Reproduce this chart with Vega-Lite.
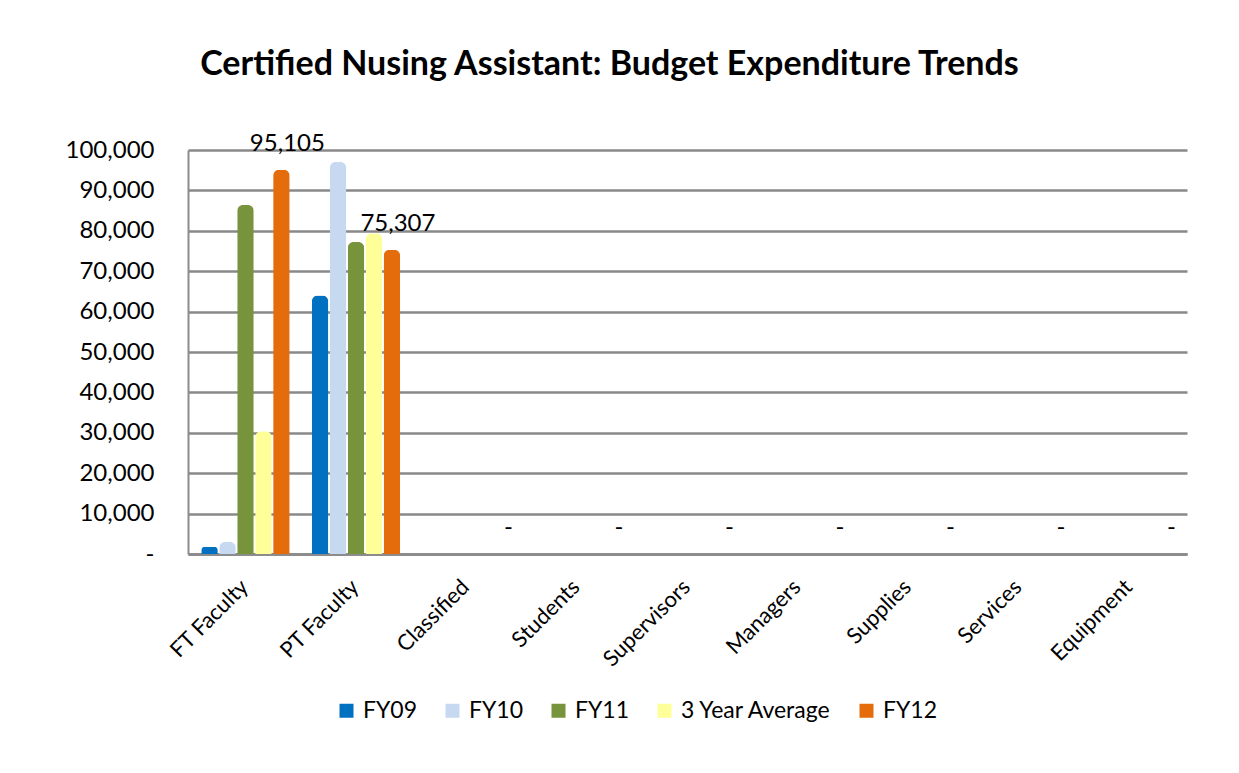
{
  "$schema": "https://vega.github.io/schema/vega-lite/v6.json",
  "autosize": {"type": "none"},
  "width": 999,
  "height": 404,
  "padding": {"left": 188, "top": 150, "right": 52, "bottom": 219},
  "background": "white",
  "title": {
    "text": "Certified Nusing Assistant: Budget Expenditure Trends",
    "font": "Lato",
    "fontSize": 34,
    "fontWeight": "bold",
    "color": "#000000",
    "frame": "group",
    "anchor": "middle",
    "dx": -78,
    "offset": 50
  },
  "data": {
    "values": [
      {"category": "FT Faculty", "series": "FY09", "value": 1800},
      {"category": "FT Faculty", "series": "FY10", "value": 3000},
      {"category": "FT Faculty", "series": "FY11", "value": 86400},
      {"category": "FT Faculty", "series": "3 Year Average", "value": 30400},
      {"category": "FT Faculty", "series": "FY12", "value": 95105},
      {"category": "PT Faculty", "series": "FY09", "value": 64000},
      {"category": "PT Faculty", "series": "FY10", "value": 97000},
      {"category": "PT Faculty", "series": "FY11", "value": 77200},
      {"category": "PT Faculty", "series": "3 Year Average", "value": 79400},
      {"category": "PT Faculty", "series": "FY12", "value": 75307},
      {"category": "Classified", "series": "FY09", "value": 0},
      {"category": "Classified", "series": "FY10", "value": 0},
      {"category": "Classified", "series": "FY11", "value": 0},
      {"category": "Classified", "series": "3 Year Average", "value": 0},
      {"category": "Classified", "series": "FY12", "value": 0},
      {"category": "Students", "series": "FY09", "value": 0},
      {"category": "Students", "series": "FY10", "value": 0},
      {"category": "Students", "series": "FY11", "value": 0},
      {"category": "Students", "series": "3 Year Average", "value": 0},
      {"category": "Students", "series": "FY12", "value": 0},
      {"category": "Supervisors", "series": "FY09", "value": 0},
      {"category": "Supervisors", "series": "FY10", "value": 0},
      {"category": "Supervisors", "series": "FY11", "value": 0},
      {"category": "Supervisors", "series": "3 Year Average", "value": 0},
      {"category": "Supervisors", "series": "FY12", "value": 0},
      {"category": "Managers", "series": "FY09", "value": 0},
      {"category": "Managers", "series": "FY10", "value": 0},
      {"category": "Managers", "series": "FY11", "value": 0},
      {"category": "Managers", "series": "3 Year Average", "value": 0},
      {"category": "Managers", "series": "FY12", "value": 0},
      {"category": "Supplies", "series": "FY09", "value": 0},
      {"category": "Supplies", "series": "FY10", "value": 0},
      {"category": "Supplies", "series": "FY11", "value": 0},
      {"category": "Supplies", "series": "3 Year Average", "value": 0},
      {"category": "Supplies", "series": "FY12", "value": 0},
      {"category": "Services", "series": "FY09", "value": 0},
      {"category": "Services", "series": "FY10", "value": 0},
      {"category": "Services", "series": "FY11", "value": 0},
      {"category": "Services", "series": "3 Year Average", "value": 0},
      {"category": "Services", "series": "FY12", "value": 0},
      {"category": "Equipment", "series": "FY09", "value": 0},
      {"category": "Equipment", "series": "FY10", "value": 0},
      {"category": "Equipment", "series": "FY11", "value": 0},
      {"category": "Equipment", "series": "3 Year Average", "value": 0},
      {"category": "Equipment", "series": "FY12", "value": 0}
    ]
  },
  "encoding": {
    "x": {
      "field": "category",
      "type": "nominal",
      "sort": null,
      "scale": {"paddingInner": 0.2, "paddingOuter": 0.12},
      "axis": {
        "title": null,
        "labelAngle": -45,
        "labelFontSize": 22,
        "labelFont": "Lato",
        "labelColor": "#000000",
        "labelPadding": 22,
        "labelOffset": -8,
        "ticks": false,
        "domainColor": "#8c8c8c",
        "domainWidth": 3
      }
    },
    "xOffset": {
      "field": "series",
      "type": "nominal",
      "sort": ["FY09", "FY10", "FY11", "3 Year Average", "FY12"],
      "scale": {"paddingInner": 0.08}
    },
    "y": {
      "field": "value",
      "type": "quantitative",
      "scale": {"domain": [0, 100000]},
      "axis": {
        "title": null,
        "values": [0, 10000, 20000, 30000, 40000, 50000, 60000, 70000, 80000, 90000, 100000],
        "labelExpr": "datum.value == 0 ? '-' : format(datum.value, ',')",
        "labelFontSize": 24,
        "labelFont": "Lato",
        "labelColor": "#000000",
        "labelPadding": 34,
        "ticks": false,
        "domainColor": "#8c8c8c",
        "domainWidth": 2,
        "gridColor": "#898989",
        "gridWidth": 2.5
      }
    }
  },
  "layer": [
    {
      "mark": {"type": "bar", "cornerRadiusTopLeft": 6, "cornerRadiusTopRight": 6},
      "encoding": {
        "color": {
          "field": "series",
          "type": "nominal",
          "sort": ["FY09", "FY10", "FY11", "3 Year Average", "FY12"],
          "scale": {
            "domain": ["FY09", "FY10", "FY11", "3 Year Average", "FY12"],
            "range": ["#0070C0", "#C6D9F1", "#77933C", "#FFFF99", "#E46C0A"]
          },
          "legend": {
            "title": null,
            "orient": "none",
            "direction": "horizontal",
            "legendX": 147,
            "legendY": 549,
            "symbolType": "square",
            "symbolSize": 196,
            "symbolStrokeWidth": 0,
            "labelFontSize": 23,
            "labelFont": "Lato",
            "labelColor": "#000000",
            "labelOffset": 5,
            "columnPadding": 23
          }
        }
      }
    },
    {
      "transform": [
        {"filter": "datum.series == 'FY12'"},
        {"calculate": "datum.value == 0 ? '-' : format(datum.value, ',')", "as": "label"}
      ],
      "mark": {"type": "text", "fontSize": 24, "font": "Lato", "color": "#000000", "dy": -26, "dx": 6},
      "encoding": {
        "text": {"field": "label", "type": "nominal"}
      }
    }
  ],
  "config": {
    "view": {"stroke": null}
  }
}
